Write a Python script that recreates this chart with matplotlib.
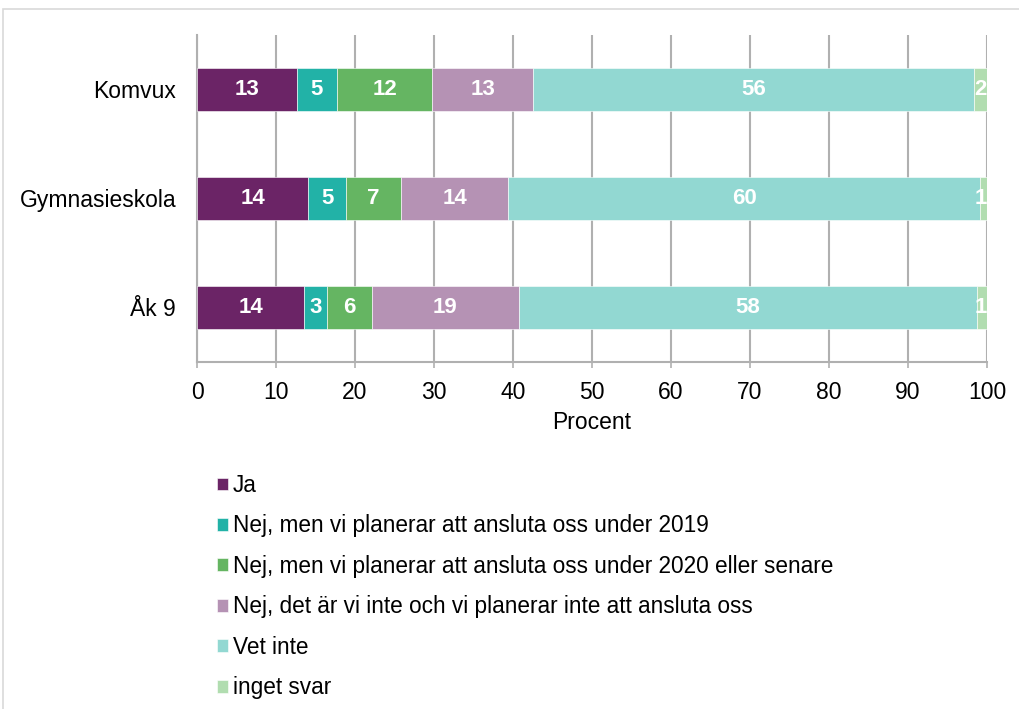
import numpy as np
import matplotlib.pyplot as plt
from matplotlib.patches import Rectangle

plt.rcParams['font.family'] = ['Liberation Sans', 'DejaVu Sans']

# Data
categories = ["Komvux", "Gymnasieskola", "Åk 9"]
series = [
    "Ja",
    "Nej, men vi planerar att ansluta oss under 2019",
    "Nej, men vi planerar att ansluta oss under 2020 eller senare",
    "Nej, det är vi inte och vi planerar inte att ansluta oss",
    "Vet inte",
    "inget svar",
]
komvux = [12.6, 5.1, 12.1, 12.7, 55.9, 1.6]
gymnasieskola = [14.1, 4.8, 6.9, 13.6, 59.7, 0.9]
ak9 = [13.6, 2.8, 5.7, 18.6, 58.0, 1.3]
colors = ["#6B2466", "#22B2A7", "#65B562", "#B592B4", "#92D8D2", "#B1DDB0"]

values = np.array([komvux, gymnasieskola, ak9])

fig = plt.figure(figsize=(10.2, 7.09), dpi=100)
ax = fig.add_axes([197 / 1020, 1 - 362 / 709, 790 / 1020, 327 / 709])

# light frame round the chart
fig.patches.append(Rectangle((3 / 1020, -0.1), 1.2, (709 - 9) / 709 + 0.1,
                             transform=fig.transFigure, fill=False,
                             edgecolor="#d9d9d9", linewidth=1.2))

y = np.arange(len(categories))
left = np.zeros(len(categories))
for i, name in enumerate(series):
    bars = ax.barh(y, values[:, i], left=left, height=0.4, color=colors[i],
                   edgecolor="white", linewidth=0.4, label=name, zorder=3)
    for j, b in enumerate(bars):
        v = values[j, i]
        cx = left[j] + v / 2
        if v < 2:
            cx = min(cx, 99.2)
        ax.text(cx, y[j], f"{v:.0f}", ha="center", va="center", color="white",
                fontsize=16, fontweight="bold", zorder=4, clip_on=True)
    left += values[:, i]

ax.set_xlim(0, 100)
ax.set_ylim(2.5, -0.5)
ax.set_xticks(np.arange(0, 101, 10))
ax.set_yticks(y)
ax.set_yticklabels(categories)
ax.tick_params(axis="y", length=0, pad=15, labelsize=16.5)
ax.tick_params(axis="x", length=4, color="#b0b0b0", width=1.2, pad=10, labelsize=16.5)
ax.grid(axis="x", color="#b0b0b0", linewidth=1.5, zorder=0)
for s in ["top", "right"]:
    ax.spines[s].set_visible(False)
ax.spines["left"].set_color("#b0b0b0")
ax.spines["left"].set_linewidth(1.5)
ax.spines["bottom"].set_color("#b0b0b0")
ax.spines["bottom"].set_linewidth(1.5)
ax.set_xlabel("Procent", fontsize=16.5, labelpad=5)

handles, labels = ax.get_legend_handles_labels()
fig.legend(handles, labels, loc="upper left", bbox_to_anchor=(208 / 1020, 1 - 465 / 709),
           frameon=False, fontsize=16.3, handlelength=0.5, handleheight=0.5,
           handletextpad=0.2, labelspacing=0.77, borderaxespad=0)

fig.savefig("out.png", dpi=100)
